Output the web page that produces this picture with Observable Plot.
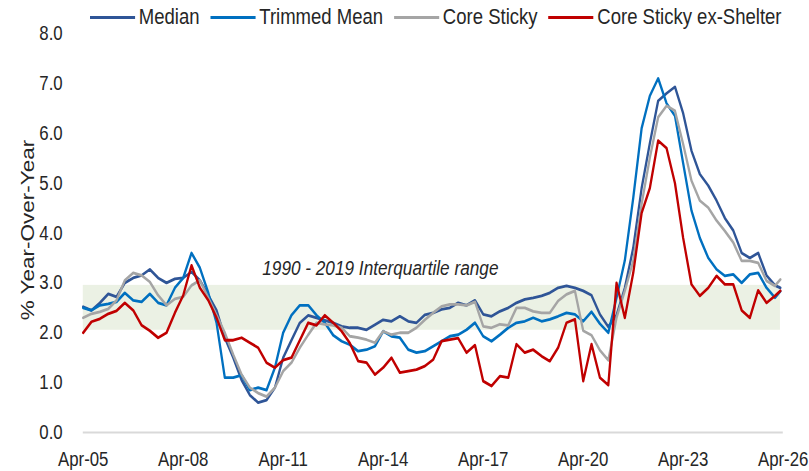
<!DOCTYPE html>
<html><head><meta charset="utf-8">
<script src="https://cdn.jsdelivr.net/npm/d3@7"></script>
<script src="https://cdn.jsdelivr.net/npm/@observablehq/plot@0.6"></script>
<style>
body{margin:0;background:#fff}
#wrap{position:relative;width:809px;height:471px;overflow:hidden;font-family:"Liberation Sans",Arial,sans-serif;color:#262626}
#legend{position:absolute;top:5px;left:90px;display:flex;align-items:center;font-size:22.6px;gap:13.4px;white-space:nowrap;line-height:24px;transform:scaleX(0.8197);transform-origin:0 0}
.item{display:flex;align-items:center}
.sw{width:55px;height:3px;margin-right:4.5px}
</style></head>
<body><div id="wrap"></div>
<script>
// Series names and colours
const seriesNames = ["Median", "Trimmed Mean", "Core Sticky", "Core Sticky ex-Shelter"];
const seriesColors = ["#2F5597", "#0070C0", "#A5A5A5", "#C00000"];

// Quarterly observations from Apr-2005 to Jan-2026, plus last reading Mar-2026
const dates = d3.range(84).map(i => d3.utcMonth.offset(new Date(Date.UTC(2005, 3, 1)), 3 * i))
  .concat([new Date(Date.UTC(2026, 2, 1))]);

const median = [2.52,2.45,2.6,2.78,2.72,3.0,3.1,3.15,3.27,3.1,3.0,3.08,3.1,3.22,3.05,2.75,2.45,1.9,1.5,1.05,0.75,0.6,0.65,0.9,1.5,1.85,2.2,2.35,2.3,2.25,2.2,2.13,2.1,2.1,2.06,2.16,2.26,2.23,2.33,2.23,2.2,2.36,2.4,2.47,2.5,2.6,2.55,2.65,2.37,2.33,2.43,2.5,2.6,2.67,2.7,2.74,2.8,2.9,2.94,2.9,2.84,2.75,2.37,2.12,2.35,2.9,3.7,4.9,5.8,6.65,6.8,6.93,6.4,5.65,5.18,4.95,4.65,4.3,4.05,3.6,3.5,3.6,3.15,2.95,2.9];
const trimmedMean = [2.5,2.45,2.55,2.58,2.62,2.8,2.65,2.62,2.78,2.6,2.55,2.9,3.1,3.6,3.3,2.8,2.2,1.1,1.1,1.15,0.85,0.9,0.85,1.3,2.0,2.35,2.55,2.55,2.35,2.2,1.95,1.83,1.76,1.63,1.66,1.73,2.03,1.93,1.9,1.66,1.6,1.63,1.73,1.83,1.93,1.96,2.06,2.2,1.93,1.83,1.96,2.1,2.2,2.23,2.3,2.23,2.27,2.33,2.4,2.37,2.23,2.42,2.18,2.0,2.7,3.45,4.7,6.1,6.75,7.1,6.6,6.35,5.4,4.45,3.9,3.5,3.27,3.14,3.17,3.0,3.17,3.2,2.9,2.7,2.83];
const coreSticky = [2.3,2.38,2.42,2.48,2.65,3.05,3.2,3.15,3.02,2.75,2.55,2.68,2.72,2.95,3.05,2.7,2.35,2.0,1.56,1.16,0.9,0.79,0.72,0.9,1.23,1.4,1.7,1.96,2.2,2.17,2.15,2.1,1.93,1.9,1.86,1.8,2.03,1.96,2.0,2.0,2.1,2.26,2.4,2.53,2.57,2.57,2.55,2.62,2.13,2.1,2.17,2.15,2.5,2.5,2.43,2.4,2.4,2.64,2.77,2.84,2.04,1.95,1.65,1.45,2.3,2.84,3.44,4.58,5.51,6.32,6.55,6.45,5.78,5.05,4.65,4.51,4.25,4.04,3.81,3.44,3.44,3.4,3.04,2.94,3.07];
const coreStickyExShelter = [2.0,2.22,2.28,2.38,2.44,2.6,2.45,2.15,2.04,1.9,2.0,2.4,2.75,3.35,2.9,2.65,2.3,1.85,1.85,1.9,1.8,1.7,1.4,1.3,1.45,1.5,1.85,2.2,2.15,2.35,2.2,2.03,1.79,1.43,1.4,1.16,1.3,1.5,1.2,1.23,1.26,1.33,1.46,1.83,1.86,1.89,1.6,1.75,1.03,0.93,1.13,1.1,1.77,1.6,1.66,1.53,1.43,1.7,2.2,2.27,1.03,1.77,1.1,0.95,3.0,2.3,3.2,4.4,4.9,5.85,5.7,5.0,3.9,2.97,2.74,2.9,3.14,2.97,2.97,2.45,2.3,2.85,2.6,2.74,2.84];

// Interquartile band and annotation
const iqrLow = 2.05, iqrHigh = 2.95;
const annotationText = "1990 - 2019 Interquartile range";
const annotationDate = new Date(Date.UTC(2014, 2, 1));
const annotationValue = 3.3;

// Axes
const yTicks = [0,1,2,3,4,5,6,7,8];
const xTicks = d3.range(2005, 2027, 3).map(y => new Date(Date.UTC(y, 3, 1)));
const yTitle = "% Year-Over-Year";

const seriesValues = [median, trimmedMean, coreSticky, coreStickyExShelter];
const rows = seriesNames.flatMap((name, s) => dates.map((d, i) => ({series: name, date: d, value: seriesValues[s][i]})));
const band = [{start: dates[0], end: dates[dates.length - 1], low: iqrLow, high: iqrHigh}];

// The chart is laid out on a wider canvas and compressed horizontally to 809px,
// like the narrow-looking original.
const W = 987, H = 471;
const chart = Plot.plot({
  width: W, height: H,
  marginLeft: 101, marginRight: 32, marginTop: 33, marginBottom: 39,
  style: {fontFamily: '"Liberation Sans",Arial,sans-serif', fontSize: "20.5px", color: "#262626", background: "white", overflow: "visible"},
  x: {type: "utc", domain: [xTicks[0], xTicks[xTicks.length - 1]]},
  y: {domain: [0, 8]},
  color: {domain: seriesNames, range: seriesColors},
  marks: [
    Plot.rect(band, {x1: "start", x2: "end", y1: "low", y2: "high", fill: "#EBF1E4"}),
    Plot.ruleY([0], {stroke: "#D9D9D9", strokeWidth: 2}),
    Plot.axisY({ticks: yTicks, tickFormat: d => d.toFixed(1), tickSize: 0, tickPadding: 25, label: null}),
    Plot.axisX({ticks: xTicks, tickFormat: d3.utcFormat("%b-%y"), tickSize: 0, tickPadding: 19, label: null}),
    Plot.text([yTitle], {frameAnchor: "left", textAnchor: "middle", text: d => d, rotate: -90, dx: -67, dy: -3, fontSize: 22.5, fill: "#262626"}),
    Plot.text([annotationText], {x: () => annotationDate, y: () => annotationValue, text: d => d, fontStyle: "italic", fontSize: 21, fill: "#262626"}),
    Plot.line(rows, {x: "date", y: "value", z: "series", stroke: "series", strokeWidth: 2.8, strokeLinejoin: "round"})
  ]
});
chart.setAttribute("viewBox", `0 0 ${W} ${H}`);
chart.setAttribute("preserveAspectRatio", "none");
chart.setAttribute("width", 809);
chart.setAttribute("height", H);
chart.style.width = "809px";
chart.style.height = H + "px";
chart.style.maxWidth = "none";

const wrap = document.getElementById("wrap");
wrap.appendChild(chart);
const legend = document.createElement("div");
legend.id = "legend";
seriesNames.forEach((name, i) => {
  const item = document.createElement("div");
  item.className = "item";
  const sw = document.createElement("span");
  sw.className = "sw";
  sw.style.background = seriesColors[i];
  const label = document.createElement("span");
  label.textContent = name;
  item.appendChild(sw);
  item.appendChild(label);
  legend.appendChild(item);
});
wrap.appendChild(legend);
</script>
</body></html>
